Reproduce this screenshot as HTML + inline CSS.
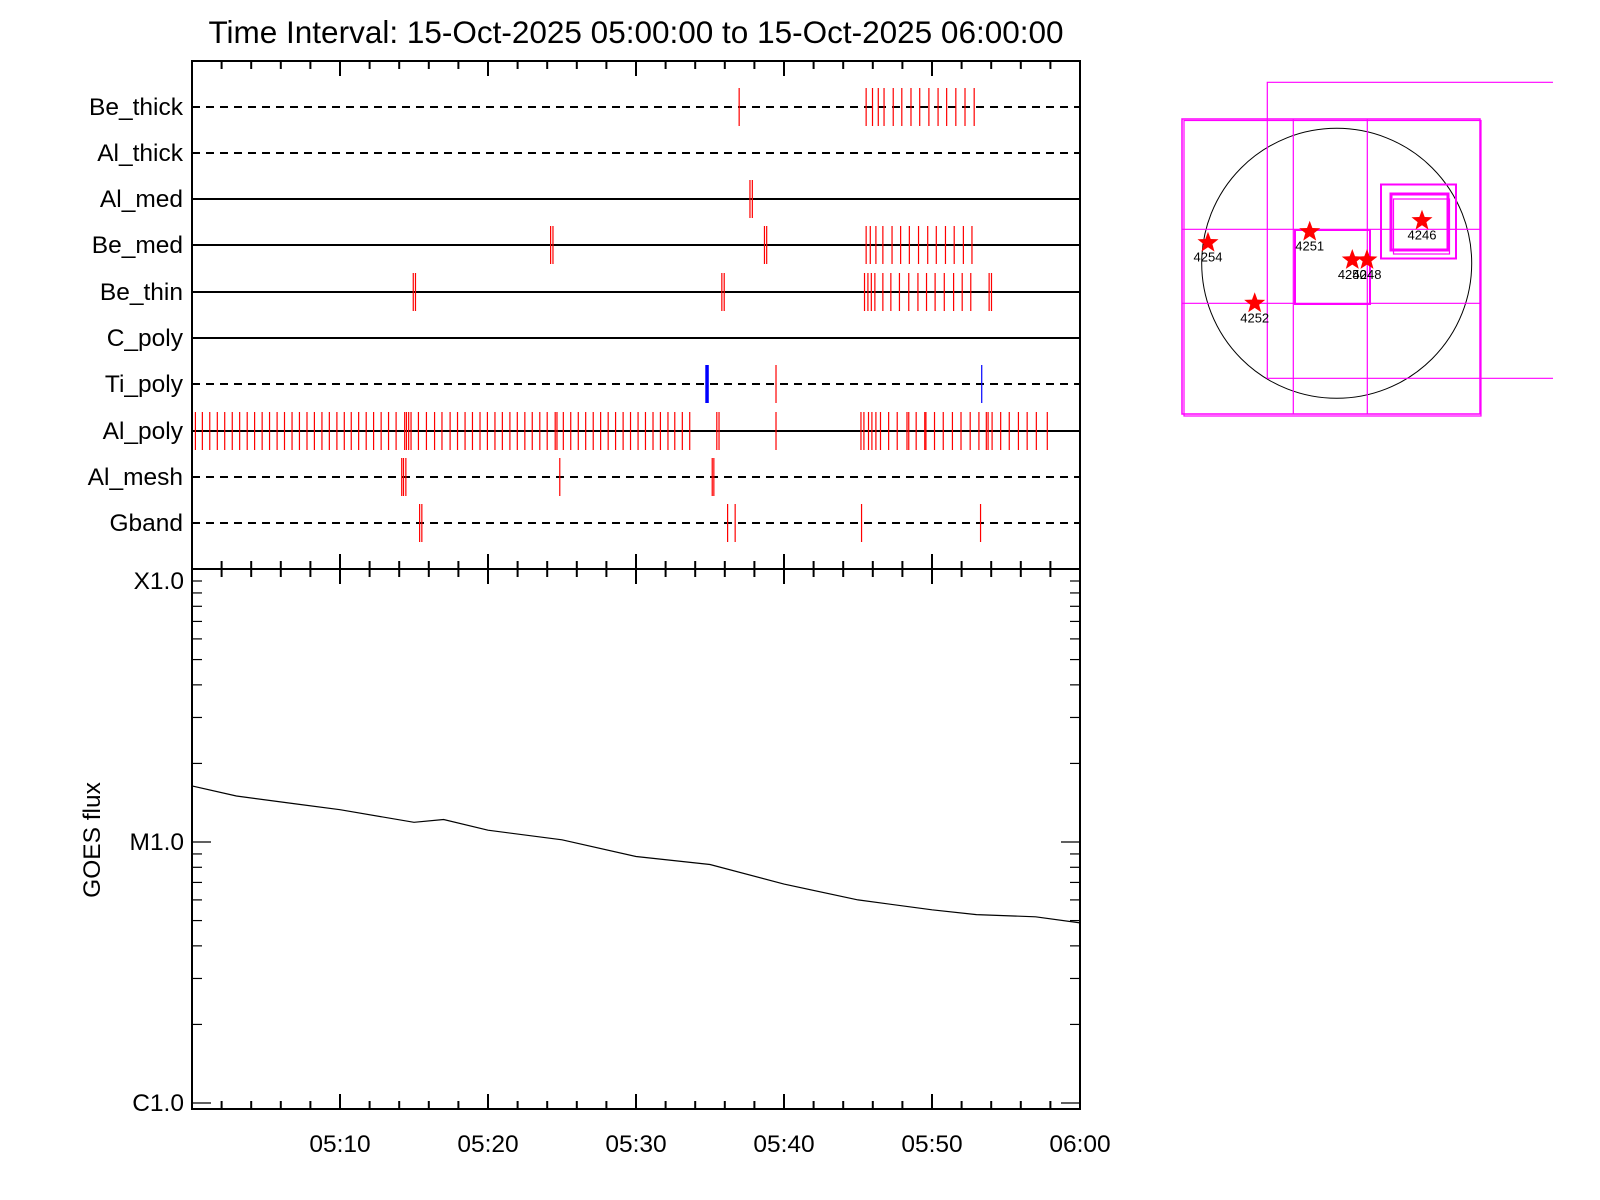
<!DOCTYPE html>
<html><head><meta charset="utf-8">
<style>
html,body{margin:0;padding:0;background:#fff;}
svg{display:block;}
text{font-family:"Liberation Sans",sans-serif;}
</style></head>
<body>
<svg id="chart" width="1600" height="1200" viewBox="0 0 1600 1200" xmlns="http://www.w3.org/2000/svg">
<text x="636" y="43" font-size="31.5" text-anchor="middle" fill="#000">Time Interval: 15-Oct-2025 05:00:00 to 15-Oct-2025 06:00:00</text>
<g id="topPanel"></g>
<g id="goes"></g>
<g id="map"></g>
</svg>
<script>
// ---- data ----
const rowNames = ["Be_thick","Al_thick","Al_med","Be_med","Be_thin","C_poly","Ti_poly","Al_poly","Al_mesh","Gband"];
const rowDashed = [true,true,false,false,false,false,true,false,true,true];
const evBeThick = [36.97,45.55,45.98,46.37,46.76,47.38,47.96,48.58,49.17,49.79,50.41,50.99,51.61,52.23,52.85];
const evAlThick = [];
const evAlMed = [37.7,37.86];
const evBeMed = [24.23,24.39,38.68,38.83,45.55,45.83,46.21,46.68,47.3,47.88,48.47,49.09,49.71,50.29,50.91,51.5,52.12,52.7];
const evBeThin = [14.95,15.1,35.8,35.96,45.44,45.67,45.9,46.14,46.68,47.22,47.8,48.43,49.05,49.63,50.21,50.83,51.46,52.04,52.62,53.86,54.02];
const evCPoly = [];
const evTiPolyRed = [39.46];
const evTiPolyBlueThick = [34.8];
const evTiPolyBlue = [53.36];
const evAlPoly = [0.23,0.70,1.20,1.71,2.21,2.72,3.22,3.73,4.23,4.74,5.24,5.75,6.25,6.76,7.26,7.77,8.27,8.78,9.28,9.79,10.29,10.76,11.26,11.77,12.27,12.78,13.28,13.79,14.37,14.49,14.64,14.8,15.3,15.84,16.39,16.89,17.44,17.94,18.45,18.95,19.46,19.96,20.47,20.97,21.48,21.98,22.49,22.99,23.5,24.0,24.54,24.66,25.09,25.59,26.1,26.6,27.11,27.61,28.12,28.62,29.13,29.63,30.14,30.64,31.15,31.65,32.16,32.62,33.13,33.63,35.46,35.61,39.46,45.2,45.4,45.71,45.94,46.21,46.52,47.07,47.65,48.31,48.43,48.93,49.51,49.59,50.17,50.76,51.38,51.96,52.58,53.17,53.67,53.79,54.06,54.64,55.22,55.84,56.43,57.05,57.79];
const evAlMesh = [14.17,14.29,14.45,24.85,35.15,35.26];
const evGband = [15.38,15.53,36.19,36.7,45.24,53.28];
const xTickLabels = ["05:10","05:20","05:30","05:40","05:50","06:00"];
const xTickMinutes = [10,20,30,40,50,60];
const goesMinutes = [0,3,7,10,15,17,20,25,30,35,40,45,50,53,57,60];
const goesFlux = [1.64e-5,1.5e-5,1.4e-5,1.33e-5,1.19e-5,1.22e-5,1.11e-5,1.02e-5,8.8e-6,8.2e-6,6.9e-6,6.0e-6,5.5e-6,5.27e-6,5.17e-6,4.9e-6];
const yTickLabels = ["X1.0","M1.0","C1.0"];
const yTickFlux = [1e-4,1e-5,1e-6];
const arNumbers = ["4254","4251","4252","4250","4248","4246"];
const arX = [1208,1309.7,1254.7,1352.3,1367,1422];
const arY = [242.7,231.7,303.3,260,260,220.7];

// ---- geometry ----
const NS="http://www.w3.org/2000/svg";
const X0=192, X1=1080, TOP=61, MID=569, BOT=1109;
const rowY=[107,153,199,245,292,338,384,431,477,523];
const xs = m => X0 + (X1-X0)*m/60;
const ys = f => 581 + (-4 - Math.log10(f))*261;
function mk(tag, attrs, parent){const e=document.createElementNS(NS,tag);for(const k in attrs)e.setAttribute(k,attrs[k]);parent.appendChild(e);return e;}

// ---- top panel ----
const topG=document.getElementById('topPanel');
const events=[evBeThick,evAlThick,evAlMed,evBeMed,evBeThin,evCPoly,evTiPolyRed,evAlPoly,evAlMesh,evGband];
rowNames.forEach((n,i)=>{
  const y=rowY[i];
  const l=mk('line',{x1:X0,x2:X1,y1:y,y2:y,stroke:'#000','stroke-width':2},topG);
  if(rowDashed[i]) l.setAttribute('stroke-dasharray','8,6');
  
  
  const t=mk('text',{x:183,y:y+8,'font-size':24.5,'text-anchor':'end',fill:'#000'},topG);
  t.textContent=n;
  
  
  events[i].forEach(m=>{
    const e=mk('line',{x1:xs(m),x2:xs(m),y1:y-19,y2:y+19,stroke:'#f00','stroke-width':1.2},topG);
    
    
  });
});
evTiPolyBlueThick.forEach(m=>{
  const e=mk('line',{x1:xs(m),x2:xs(m),y1:rowY[6]-19,y2:rowY[6]+19,stroke:'#00f','stroke-width':3.5},topG);
  
  
});
evTiPolyBlue.forEach(m=>{
  const e=mk('line',{x1:xs(m),x2:xs(m),y1:rowY[6]-19,y2:rowY[6]+19,stroke:'#00f','stroke-width':1.2},topG);
  
  
});
const fr=mk('rect',{x:X0,y:TOP,width:X1-X0,height:MID-TOP,fill:'none',stroke:'#000','stroke-width':2},topG);


for(let m=2;m<60;m+=2){
  const L=(m%10===0)?15:8;
  mk('line',{x1:xs(m),x2:xs(m),y1:TOP,y2:TOP+L,stroke:'#000','stroke-width':2},topG);
  mk('line',{x1:xs(m),x2:xs(m),y1:MID,y2:MID-L,stroke:'#000','stroke-width':2},topG);
}

// ---- GOES panel ----
const g=document.getElementById('goes');
const gf=mk('rect',{x:X0,y:MID,width:X1-X0,height:BOT-MID,fill:'none',stroke:'#000','stroke-width':2},g);


for(let m=2;m<=60;m+=2){
  const L=(m%10===0)?15:8;
  mk('line',{x1:xs(m),x2:xs(m),y1:MID,y2:MID+L,stroke:'#000','stroke-width':2},g);
  mk('line',{x1:xs(m),x2:xs(m),y1:BOT,y2:BOT-L,stroke:'#000','stroke-width':2},g);
}
xTickLabels.forEach((s,i)=>{
  const t=mk('text',{x:xs(xTickMinutes[i]),y:1152,'font-size':24.5,'text-anchor':'middle',fill:'#000'},g);
  t.textContent=s;
  
  
});
for(let d=-6; d<=-5; d++){
  for(let k=1;k<=9;k++){
    const f=k*Math.pow(10,d); const y=ys(f);
    if(y<MID||y>BOT) continue;
    const L=(k===1)?19:10;
    mk('line',{x1:X0,x2:X0+L,y1:y,y2:y,stroke:'#000','stroke-width':1.2},g);
    mk('line',{x1:X1,x2:X1-L,y1:y,y2:y,stroke:'#000','stroke-width':1.2},g);
  }
}
mk('line',{x1:X0,x2:X0+10,y1:ys(1e-4),y2:ys(1e-4),stroke:'#000','stroke-width':1.2},g);
mk('line',{x1:X1,x2:X1-10,y1:ys(1e-4),y2:ys(1e-4),stroke:'#000','stroke-width':1.2},g);
yTickLabels.forEach((s,i)=>{
  const t=mk('text',{x:184,y:ys(yTickFlux[i])+8,'font-size':24.5,'text-anchor':'end',fill:'#000'},g);
  t.textContent=s;
  
  
});
const yt=mk('text',{x:0,y:0,'font-size':24.5,'text-anchor':'middle',fill:'#000',transform:'translate(100,840) rotate(-90)'},g);
yt.textContent='GOES flux';


const pts=goesMinutes.map((m,i)=>xs(m).toFixed(1)+','+ys(goesFlux[i]).toFixed(1)).join(' ');
const pl=mk('polyline',{points:pts,fill:'none',stroke:'#000','stroke-width':1.2},g);



// ---- map ----
const mp=document.getElementById('map');
const M='#ff00ff';
mk('circle',{cx:1336.7,cy:263.3,r:135,fill:'none',stroke:'#000','stroke-width':1},mp);
mk('rect',{x:1182,y:119,width:298,height:295,fill:'none',stroke:M,'stroke-width':1.5},mp);
mk('rect',{x:1184,y:120.5,width:297,height:295.5,fill:'none',stroke:M,'stroke-width':1.2},mp);
mk('polyline',{points:'1553,82.3 1267.3,82.3 1267.3,378.3 1553,378.3',fill:'none',stroke:M,'stroke-width':1.2},mp);
[1293.3,1367.3].forEach(x=>mk('line',{x1:x,x2:x,y1:119,y2:414,stroke:M,'stroke-width':1.2},mp));
[229.3,303.3].forEach(y=>mk('line',{x1:1182,x2:1480,y1:y,y2:y,stroke:M,'stroke-width':1.2},mp));
mk('rect',{x:1295,y:230,width:75,height:74,fill:'none',stroke:M,'stroke-width':2},mp);
mk('rect',{x:1381,y:184.5,width:75,height:74,fill:'none',stroke:M,'stroke-width':2},mp);
mk('rect',{x:1391,y:194,width:57,height:56,fill:'none',stroke:M,'stroke-width':3},mp);
mk('rect',{x:1393.5,y:199,width:56,height:55,fill:'none',stroke:M,'stroke-width':1.2},mp);
function star(cx,cy,R){let p=[];for(let i=0;i<10;i++){const r=i%2?R*0.42:R;const a=-Math.PI/2+i*Math.PI/5;p.push((cx+r*Math.cos(a)).toFixed(1)+','+(cy+r*Math.sin(a)).toFixed(1));}return p.join(' ');}
arNumbers.forEach((n,i)=>{
  const s=mk('polygon',{points:star(arX[i],arY[i],11),fill:'#f00'},mp);
  
  
  const t=mk('text',{x:arX[i],y:arY[i]+19,'font-size':13,'text-anchor':'middle',fill:'#000'},mp);
  t.textContent=n;
  
  
});
</script>
</body></html>
